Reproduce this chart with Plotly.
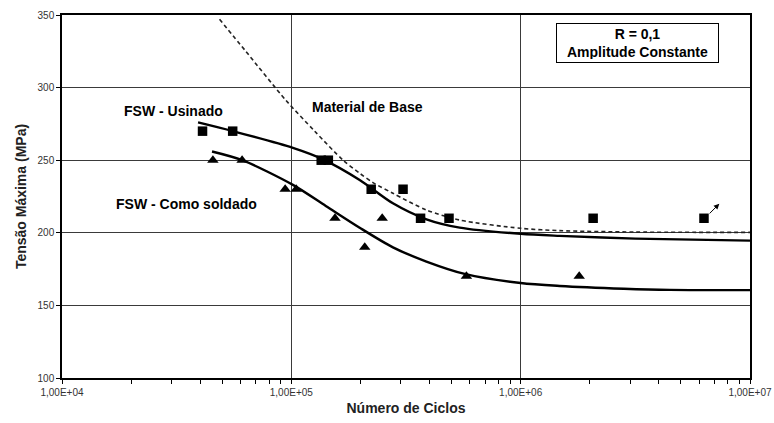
import math
import plotly.graph_objects as go

# Fatigue test results (maximum stress vs. number of cycles)
usinado_N = [4.1e4, 5.55e4, 1.35e5, 1.45e5, 2.23e5, 3.07e5, 3.66e5, 4.87e5, 2.07e6, 6.3e6]
usinado_S = [270, 270, 250, 250, 230, 230, 210, 210, 210, 210]

soldado_N = [4.55e4, 6.1e4, 9.4e4, 1.05e5, 1.55e5, 2.09e5, 2.49e5, 5.8e5, 1.8e6]
soldado_S = [250, 250, 230, 230, 210, 190, 210, 170, 170]

# Fitted S-N curves
usinado_fit_N = [3.92e4, 5.56e4, 1.016e5, 1.374e5, 1.986e5, 2.773e5, 3.882e5, 5.42e5, 1.0e6, 1.479e6, 3.16e6, 1.0e7]
usinado_fit_S = [276, 270, 258.5, 250.6, 236.4, 220.3, 209.3, 203.6, 199.3, 197.9, 196, 194.6]

soldado_fit_N = [4.51e4, 6.11e4, 1.016e5, 1.413e5, 1.986e5, 2.773e5, 3.882e5, 5.754e5, 1.0e6, 1.479e6, 2.818e6, 4.467e6, 1.0e7]
soldado_fit_S = [256, 250, 233, 218.5, 203.5, 190, 180.2, 171.5, 165.4, 163.4, 161.5, 160.7, 160.5]

base_N = [4.864e4, 6.31e4, 9.44e4, 1.259e5, 1.679e5, 1.986e5, 2.27e5, 2.773e5, 3.882e5, 5.42e5, 1.0e6, 1.479e6, 3.16e6, 1.0e7]
base_S = [347, 325.3, 291.5, 270.3, 250.1, 241, 234.6, 227.2, 215.7, 208.8, 203.1, 201.5, 200.5, 200.3]

# Run-out specimen (arrow)
runout_N = 6.3e6
runout_S = 210
runout_tip_N = 7.35e6
runout_tip_S = 220

x_tickvals = [1e4, 1e5, 1e6, 1e7]
x_ticktext = ["1,00E+04", "1,00E+05", "1,00E+06", "1,00E+07"]
y_tickvals = [100, 150, 200, 250, 300, 350]

FONT = "Arial, Liberation Sans, sans-serif"

fig = go.Figure()

fig.add_trace(go.Scatter(x=base_N, y=base_S, mode="lines",
                         line=dict(color="#222", width=1.6, dash="4px,3px", shape="spline", smoothing=0.8),
                         showlegend=False))
fig.add_trace(go.Scatter(x=usinado_fit_N, y=usinado_fit_S, mode="lines",
                         line=dict(color="black", width=2.4, shape="spline", smoothing=0.8), showlegend=False))
fig.add_trace(go.Scatter(x=soldado_fit_N, y=soldado_fit_S, mode="lines",
                         line=dict(color="black", width=2.4, shape="spline", smoothing=0.8), showlegend=False))
fig.add_trace(go.Scatter(x=usinado_N, y=usinado_S, mode="markers",
                         marker=dict(symbol="square", size=9.5, color="black"), showlegend=False))
fig.add_trace(go.Scatter(x=soldado_N, y=soldado_S, mode="markers",
                         marker=dict(symbol="triangle-up", size=10, color="black"), showlegend=False))

label_font = dict(family=FONT, size=14, color="black")
fig.add_annotation(x=0.162, y=0.736, xref="paper", yref="paper", xanchor="center", yanchor="middle",
                   text="<b>FSW - Usinado</b>", showarrow=False, font=label_font)
fig.add_annotation(x=0.181, y=0.479, xref="paper", yref="paper", xanchor="center", yanchor="middle",
                   text="<b>FSW - Como soldado</b>", showarrow=False, font=label_font)
fig.add_annotation(x=0.444, y=0.746, xref="paper", yref="paper", xanchor="center", yanchor="middle",
                   text="<b>Material de Base</b>", showarrow=False, font=label_font)
fig.add_annotation(x=0.837, y=0.922, xref="paper", yref="paper", xanchor="center", yanchor="middle",
                   text="<b>R = 0,1</b><br><b>Amplitude Constante</b>", showarrow=False,
                   font=label_font, bordercolor="black", borderwidth=1, borderpad=3,
                   bgcolor="white", width=155, height=32)

# Log axes take annotation positions in log10 units
fig.add_annotation(x=math.log10(runout_tip_N), y=runout_tip_S,
                   ax=math.log10(runout_N) + 0.018, ay=runout_S + 2.3,
                   xref="x", yref="y", axref="x", ayref="y", text="", showarrow=True,
                   arrowhead=2, arrowsize=1.1, arrowwidth=1, arrowcolor="black")

fig.update_xaxes(type="log", range=[4, 7], tickvals=x_tickvals, ticktext=x_ticktext,
                 showline=True, linecolor="black", linewidth=1.5, mirror=True,
                 showgrid=True, gridcolor="#3a3a3a", gridwidth=1.3,
                 ticks="outside", ticklen=4, tickcolor="black",
                 minor=dict(ticks="outside", ticklen=4, tickcolor="black", dtick="D1", showgrid=False),
                 tickfont=dict(family=FONT, size=10, color="#333"),
                 title=dict(text="<b>Número de Ciclos</b>", font=dict(family=FONT, size=14, color="#222"), standoff=6),
                 zeroline=False, automargin=False)
fig.update_yaxes(range=[100, 350], tickvals=y_tickvals,
                 showline=True, linecolor="black", linewidth=1.5, mirror=True,
                 showgrid=True, gridcolor="#3a3a3a", gridwidth=1.3,
                 ticks="outside", ticklen=4, tickcolor="black",
                 tickfont=dict(family=FONT, size=10, color="#333"),
                 title=dict(text="<b>Tensão Máxima (MPa)</b>", font=dict(family=FONT, size=14, color="#222"), standoff=8),
                 zeroline=False, automargin=False)

fig.update_layout(width=774, height=423, margin=dict(l=62, r=24, t=15, b=45),
                  plot_bgcolor="white", paper_bgcolor="white")

fig.write_html("out.html")
